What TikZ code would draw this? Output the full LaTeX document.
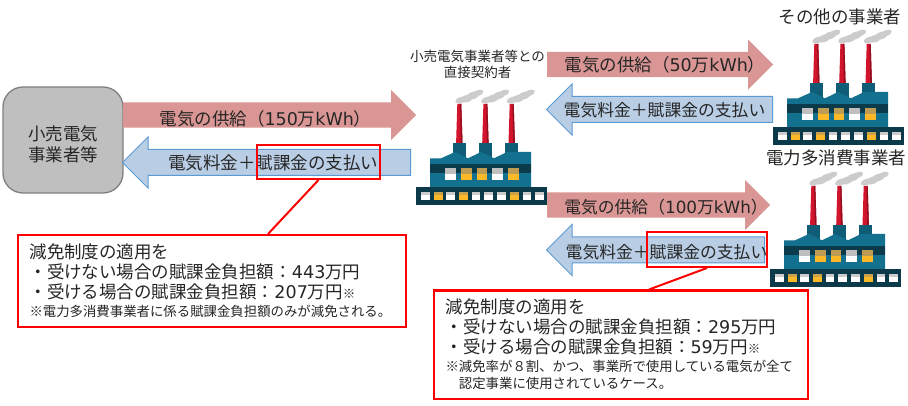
\documentclass[tikz,border=0pt]{standalone}
\usepackage{fontspec}
\setmainfont{Noto Sans CJK JP}
\newfontfamily\vd{DejaVu Sans}
\usetikzlibrary{shapes.arrows}
\definecolor{plantdark}{HTML}{0B3A4A}
\definecolor{planteal}{HTML}{13708F}
\definecolor{plantblock}{HTML}{0F5C76}
\definecolor{plantamber}{HTML}{FDB827}
\definecolor{plantred}{HTML}{D2142C}
\definecolor{supplyred}{HTML}{DA9694}
\definecolor{payblue}{HTML}{B9CDE5}
\definecolor{payline}{HTML}{5B9BD5}
\definecolor{inkgrey}{HTML}{262626}
\newcommand{\notemark}{{\fontsize{12.5}{15}\selectfont ※}}
\newcommand{\notetext}[1]{{\fontsize{13.4}{15}\selectfont #1}}
\tikzset{
    body/.style={font=\fontsize{17.5}{21}\selectfont, text=inkgrey},
    paysmall/.style={font=\fontsize{16.8}{21}\selectfont, text=inkgrey},
    flowarrow/.style={single arrow, single arrow head extend=12.5pt, minimum width=50pt, inner xsep=0pt, inner ysep=12.5pt, anchor=tail},
    supply/.style={flowarrow, fill=supplyred},
    payment/.style={flowarrow, fill=payblue, draw=payline, line width=1pt, shape border rotate=180},
    feebox/.style={draw=red, line width=2pt},
    notebox/.style={draw=red, line width=2pt, fill=white, align=left, anchor=north west, inner xsep=11.5pt, inner ysep=0pt, body},
    small/.style={font=\fontsize{13.5}{16}\selectfont, text=inkgrey, align=center},
    plant/.pic={
        % smoke
        \foreach \s in {0,25.7,51.3}
            \foreach \a/\b/\r in {4/10/3,10/8.5/3.6,16/5.5/3.6,21/3/2.8}
                \fill[gray!40, rotate around={20:(\a+\s+41,\b)}] (\a+\s+41,\b) ellipse ({\r+3} and \r);
        % stacks
        \foreach \s in {43.3,69.4,95.7} {
            \fill[plantred] (\s-2,14) -- (\s+2,14) -- (\s+3.2,53) -- (\s-3.2,53) -- cycle;
            \fill[plantred!70!black] (\s+0.8,14) -- (\s+2,14) -- (\s+3.2,53) -- (\s+1.5,53) -- cycle;
            \fill[plantblock] (\s-6.6,53) rectangle (\s+6.6,68);
        }
        % building
        \fill[planteal] (14,68.3) -- (25,68.3) -- (39,62) -- (52,68.3) -- (65,62) -- (78,68.3) -- (91,62) -- (115,62) -- (115,97) -- (14,97) -- cycle;
        \fill[plantdark] (14,74) rectangle (115,83);
        \foreach \x/\c in {29/white,45/plantamber,60.5/plantamber,76/white,92/plantamber} {
            \fill[\c] (\x,84) rectangle (\x+10.7,90);
            \fill[\c!50!gray] (\x,78) rectangle (\x+10.7,84);
        }
        % base strip
        \fill[plantdark] (0,97) rectangle (131,115);
        \foreach \x/\c in {5/white,18/plantamber,30.3/white,43/plantamber,55.5/white,68.2/white,81/white,94/plantamber,106.6/white,119/white} {
            \fill[\c] (\x,102) rectangle (\x+8.5,110.5);
            \fill[\c!60!gray] (\x,102) rectangle (\x+8.5,105);
        }
    }
}
\begin{document}
\begin{tikzpicture}[x=1pt,y=-1pt]
    \useasboundingbox (0,0) rectangle (908,406);
    \fill[white] (0,0) rectangle (908,406);
    \node[draw=gray, line width=1.3pt, fill=gray!50, rounded corners=20pt, minimum width=120pt, minimum height=106pt] (retailer) at (63,140) {};
    \node[body, align=center] (retailertext) at (63,144) {小売電気\\事業者等};

    \pic at (416,90) {plant};
    \pic at (773,30) {plant};
    \pic at (770,172) {plant};
    \node[small] (directlabel) at (477.5,64) {小売電気事業者等との\\直接契約者};
    \node[body] (otherlabel) at (840,16.5) {その他の事業者};
    \node[body] (heavylabel) at (836,158) {電力多消費事業者};

    \node[supply, minimum height=293pt] (supplyA) at (123,115) {};
    \node[payment, minimum height=288pt] (payA) at (411,162.5) {};
    \node[supply, minimum height=226pt] (supplyB) at (547,64.5) {};
    \node[payment, minimum height=226pt] (payB) at (773,109.5) {};
    \node[supply, minimum height=223pt] (supplyC) at (547,205) {};
    \node[payment, minimum height=218pt] (payC) at (765,250) {};

    \node[body] (supplyAtext) at (265.5,118.5) {電気の供給（{\vd 150}万{\vd kWh}）};
    \node[body] (payAtext) at (273,163) {電気料金＋賦課金の支払い};
    \node[body] (supplyBtext) at (665,65) {電気の供給（{\vd 50}万{\vd kWh}）};
    \node[paysmall] (payBtext) at (664.5,110) {電気料金＋賦課金の支払い};
    \node[paysmall] (supplyCtext) at (666,207) {電気の供給（{\vd 100}万{\vd kWh}）};
    \node[paysmall] (payCtext) at (666.5,252) {電気料金＋賦課金の支払い};

    \node[feebox, minimum width=123pt, minimum height=34pt] (feeA) at (318.5,162) {};
    \node[feebox, minimum width=120pt, minimum height=35pt] (feeB) at (707,249.5) {};

    \node[notebox, minimum width=388pt, minimum height=92pt, text width=365pt] (noteA) at (17,234) {減免制度の適用を\\[-1pt]・受けない場合の賦課金負担額：{\vd 443}万円\\[-1pt]・受ける場合の賦課金負担額：{\vd 207}万円\notemark\\[-3pt]\notetext{※電力多消費事業者に係る賦課金負担額のみが減免される。}};
    \node[notebox, minimum width=374pt, minimum height=108pt, text width=351pt] (noteB) at (433,289.5) {減免制度の適用を\\[-1pt]・受けない場合の賦課金負担額：{\vd 295}万円\\[-1pt]・受ける場合の賦課金負担額：{\vd 59}万円\notemark\\[-3pt]\notetext{※減免率が８割、かつ、事業所で使用している電気が全て}\\[-4pt]\notetext{\hspace*{1em}認定事業に使用されているケース。}};

    \draw[draw=red, line width=2pt] (feeA.south) -- (noteA.40);
    \draw[draw=red, line width=2pt] (feeB.south) -- (noteB.63.4);
\end{tikzpicture}
\end{document}
